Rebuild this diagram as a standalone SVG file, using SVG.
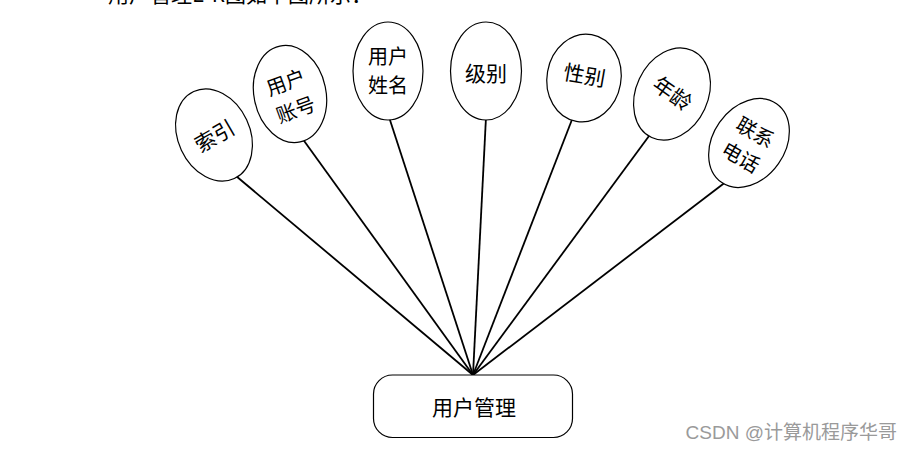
<svg xmlns="http://www.w3.org/2000/svg" width="913" height="452" viewBox="0 0 913 452">
<style>
.e{fill:#fff;stroke:#000;stroke-width:1.2}
.t{font-family:"Noto Sans CJK SC","Liberation Sans",sans-serif;font-size:21px;fill:#000;text-anchor:middle;dominant-baseline:central}
.t2{font-size:20px}
.c{stroke:#000;stroke-width:1.8;fill:none}
</style>
<rect width="913" height="452" fill="#fff"/>
<text x="108" y="2" font-family="Noto Sans CJK SC, Liberation Sans, sans-serif" font-size="21" fill="#000">用户管理E-R图如下图所示：</text>
<g id="connectors">
<line class="c" x1="473" y1="375" x2="236" y2="176"/>
<line class="c" x1="473" y1="375" x2="302" y2="138"/>
<line class="c" x1="473" y1="375" x2="389" y2="117"/>
<line class="c" x1="473" y1="375" x2="486" y2="117"/>
<line class="c" x1="473" y1="375" x2="573" y2="117"/>
<line class="c" x1="473" y1="375" x2="649" y2="136"/>
<line class="c" x1="473" y1="375" x2="727" y2="181"/>
</g>
<g id="n-suoyin" transform="translate(214,135)">
<ellipse class="e" rx="36" ry="48" transform="rotate(-25)"/>
<text class="t" transform="rotate(-30)">索引</text>
</g>
<g id="n-zhanghao" transform="translate(290,94)">
<ellipse class="e" rx="36" ry="49" transform="rotate(-12)"/>
<text class="t t2" transform="rotate(-20)"><tspan x="0" y="-14">用户</tspan><tspan x="0" y="15">账号</tspan></text>
</g>
<g id="n-xingming" transform="translate(388,71)">
<ellipse class="e" rx="35" ry="49"/>
<text class="t t2"><tspan x="0" y="-16">用户</tspan><tspan x="0" y="13">姓名</tspan></text>
</g>
<g id="n-jibie" transform="translate(486,71)">
<ellipse class="e" rx="35.5" ry="49"/>
<text class="t" y="1">级别</text>
</g>
<g id="n-xingbie" transform="translate(584,78)">
<ellipse class="e" rx="37" ry="44" transform="rotate(10)"/>
<text class="t" y="-4" transform="rotate(10)">性别</text>
</g>
<g id="n-nianling" transform="translate(672,94)">
<ellipse class="e" rx="36" ry="48" transform="rotate(25)"/>
<text class="t" x="0" y="-2" transform="rotate(35)">年龄</text>
</g>
<g id="n-lianxidianhua" transform="translate(749,143)">
<ellipse class="e" rx="36" ry="48" transform="rotate(35)"/>
<text class="t t2" transform="rotate(30)"><tspan x="0" y="-14">联系</tspan><tspan x="0" y="15">电话</tspan></text>
</g>
<g id="n-yonghuguanli">
<rect class="e" x="373.5" y="375" width="199" height="62.5" rx="19" ry="19"/>
<text class="t" x="474" y="406" font-size="22">用户管理</text>
</g>
<text x="897" y="439" text-anchor="end" font-family="Liberation Sans, Noto Sans CJK SC, sans-serif" font-size="19" fill="#9a9a9a">CSDN @计算机程序华哥</text>
</svg>
